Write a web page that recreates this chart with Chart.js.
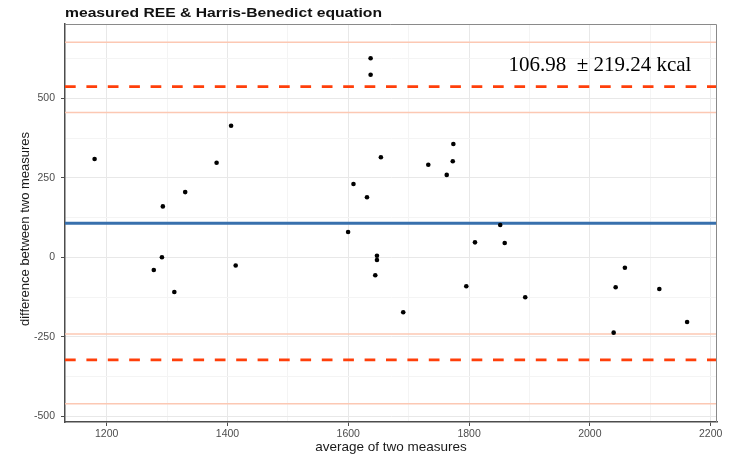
<!DOCTYPE html>
<html>
<head>
<meta charset="utf-8">
<script src="https://cdn.jsdelivr.net/npm/chart.js@4/dist/chart.umd.min.js"></script>
<style>
  html, body { margin: 0; padding: 0; background: #ffffff; }
  #wrap { width: 729px; height: 458px; }
</style>
</head>
<body>
<div id="wrap"><canvas id="c" width="729" height="458"></canvas></div>
<script>
// ---- data ----
const chartTitle = "measured REE & Harris-Benedict equation";
const xAxisTitle = "average of two measures";
const yAxisTitle = "difference between two measures";
const annotationText = "106.98  \u00b1 219.24 kcal";

const xAvg = [1180, 1278, 1291.5, 1293, 1312, 1330, 1382, 1406, 1413.6,
              1599.7, 1608.6, 1631, 1637, 1637, 1644.7, 1647.5, 1647.5, 1654, 1691,
              1732.5, 1763, 1773, 1774, 1795.4, 1809.8, 1851.6, 1859, 1893,
              2039.4, 2042.7, 2058, 2115, 2161];
const yDiff = [309, -40, 0, 160, -109, 205, 297.5, 413.8, -26,
               79.6, 230.5, 188.7, 625.8, 574, -56.6, 5, -8.5, 314.5, -173,
               291, 259, 302, 356, -91, 47, 101.6, 45, -125.8,
               -237, -94.3, -32.7, -99.7, -203.5];

const meanDiff = 106.98;
const upperLoA = 536.7;
const lowerLoA = -322.7;
const ciLines = [676, 455, -241, -461];

const xTicks = [1200, 1300, 1400, 1500, 1600, 1700, 1800, 1900, 2000, 2100, 2200];
const yTicks = [-500, -375, -250, -125, 0, 125, 250, 375, 500, 625];
const xMajorStep = 200;
const yMajorStep = 250;

const xMin = 1131, xMax = 2210.5;
const yMin = -518, yMax = 733.6;

const annotationX = 2016.7;
const annotationY = 587;

// ---- build datasets ----
const pts = xAvg.map((x, i) => ({ x: x, y: yDiff[i] }));
const hline = v => [{ x: xMin, y: v }, { x: xMax, y: v }];

const datasets = [
  { type: 'scatter', data: pts, backgroundColor: '#000000', borderColor: '#000000',
    pointRadius: 2.3, pointBorderWidth: 0, order: 0 }
];
ciLines.forEach(v => datasets.push({
  type: 'line', data: hline(v), borderColor: '#fcc8b3', borderWidth: 1.5,
  pointRadius: 0, fill: false, order: 3 }));
[upperLoA, lowerLoA].forEach(v => datasets.push({
  type: 'line', data: hline(v), borderColor: '#ff3f0a', borderWidth: 2.6,
  borderDash: [10.7, 10.7], pointRadius: 0, fill: false, order: 2 }));
datasets.push({ type: 'line', data: hline(meanDiff), borderColor: '#3870ad',
  borderWidth: 3, pointRadius: 0, fill: false, order: 1 });

const FONT = '"Liberation Sans", Arial, Helvetica, sans-serif';

const extras = {
  id: 'extras',
  afterDraw(chart) {
    const { ctx, chartArea: a, scales } = chart;
    ctx.save();
    // top & right panel border
    ctx.strokeStyle = '#8a8a8a';
    ctx.lineWidth = 1;
    ctx.beginPath();
    ctx.moveTo(a.left, a.top + 0.5);
    ctx.lineTo(a.right - 0.5, a.top + 0.5);
    ctx.lineTo(a.right - 0.5, a.bottom);
    ctx.stroke();
    // title (stretched to the reference width)
    ctx.fillStyle = '#111111';
    ctx.font = 'bold 13.5px ' + FONT;
    ctx.textAlign = 'left';
    ctx.textBaseline = 'alphabetic';
    const tw = ctx.measureText(chartTitle).width;
    ctx.save();
    ctx.translate(a.left, 17);
    ctx.scale(317 / tw, 1);
    ctx.fillText(chartTitle, 0, 0);
    ctx.restore();
    // y axis title
    ctx.save();
    ctx.font = '13px ' + FONT;
    ctx.fillStyle = '#1a1a1a';
    ctx.textAlign = 'center';
    ctx.textBaseline = 'middle';
    ctx.translate(25.5, (a.top + a.bottom) / 2 + 6);
    ctx.rotate(-Math.PI / 2);
    ctx.fillText(yAxisTitle, 0, 0);
    ctx.restore();
    // annotation
    ctx.fillStyle = '#000000';
    ctx.font = '21px "Liberation Serif", "Times New Roman", serif';
    ctx.textAlign = 'center';
    ctx.fillText(annotationText, scales.x.getPixelForValue(annotationX),
                 scales.y.getPixelForValue(annotationY));
    ctx.restore();
  }
};

new Chart(document.getElementById('c'), {
  type: 'scatter',
  data: { datasets: datasets },
  plugins: [extras],
  options: {
    responsive: false,
    devicePixelRatio: 1,
    animation: false,
    layout: { padding: { top: 24, right: 12, left: 0, bottom: 0 } },
    plugins: { legend: { display: false }, tooltip: { enabled: false }, title: { display: false } },
    scales: {
      x: {
        type: 'linear', min: xMin, max: xMax,
        afterBuildTicks: s => { s.ticks = xTicks.map(v => ({ value: v })); },
        afterFit: s => { s.height = 36; },
        ticks: {
          autoSkip: false, maxRotation: 0, padding: 2,
          color: '#4d4d4d', font: { family: FONT, size: 10.5 },
          callback: v => (v % xMajorStep === 0 ? String(v) : '')
        },
        grid: {
          color: c => (c.tick && c.tick.value % xMajorStep === 0 ? '#e8e8e8' : '#f4f4f4'),
          tickColor: c => (c.tick && c.tick.value % xMajorStep === 0 ? '#4d4d4d' : 'rgba(0,0,0,0)'),
          tickLength: 4, lineWidth: 1
        },
        border: { display: true, color: '#4d4d4d', width: 1.5 },
        title: { display: true, text: xAxisTitle, color: '#1a1a1a',
                 font: { family: FONT, size: 13.5 }, padding: { top: 0, bottom: 3 } }
      },
      y: {
        type: 'linear', min: yMin, max: yMax,
        afterBuildTicks: s => { s.ticks = yTicks.map(v => ({ value: v })); },
        afterFit: s => { s.width = 65; },
        ticks: {
          autoSkip: false, padding: 6,
          color: '#4d4d4d', font: { family: FONT, size: 10.5 },
          callback: v => (v % yMajorStep === 0 ? String(v) : '')
        },
        grid: {
          color: c => (c.tick && c.tick.value % yMajorStep === 0 ? '#e8e8e8' : '#f4f4f4'),
          tickColor: c => (c.tick && c.tick.value % yMajorStep === 0 ? '#4d4d4d' : 'rgba(0,0,0,0)'),
          tickLength: 4, lineWidth: 1
        },
        border: { display: true, color: '#4d4d4d', width: 1.5 },
        title: { display: false }
      }
    }
  }
});
</script>
</body>
</html>
